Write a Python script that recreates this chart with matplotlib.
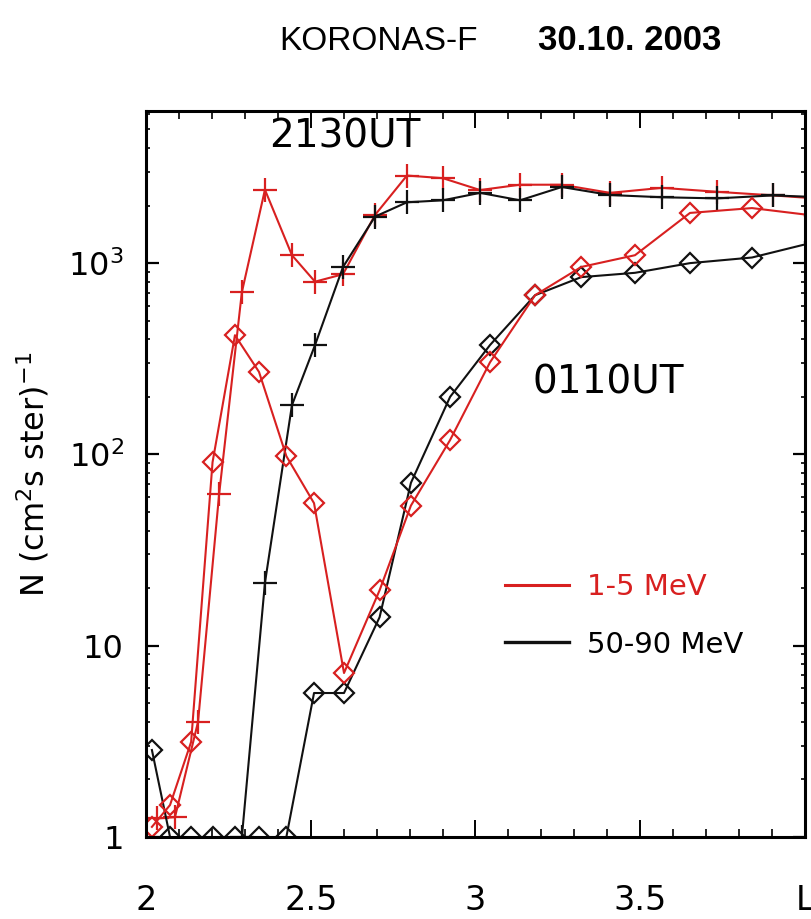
import matplotlib

matplotlib.use("Agg")
import matplotlib.pyplot as plt
from matplotlib.lines import Line2D
from matplotlib.ticker import FixedLocator, FixedFormatter, LogLocator, MultipleLocator, NullFormatter

# L-shell profiles of electron flux, KORONAS-F, 30.10.2003
# 2130UT pass (crosses), 0110UT pass (diamonds)
L_2130 = [2.033, 2.088, 2.158, 2.222, 2.291, 2.361, 2.443, 2.513, 2.598, 2.695,
          2.792, 2.901, 3.014, 3.135, 3.262, 3.408, 3.566, 3.733, 3.903, 4.08]
lo_2130 = [1.25, 1.27, 4.0, 62, 705, 2420, 1100, 800, 875, 1785,
           2870, 2780, 2410, 2570, 2570, 2330, 2475, 2360, 2260, 2150]
L_2130_hi = [2.291, 2.361, 2.443, 2.513, 2.598, 2.695, 2.792, 2.901, 3.014, 3.135,
             3.262, 3.408, 3.566, 3.733, 3.903, 4.08]
hi_2130 = [1.0, 21.3, 181, 373, 955, 1750, 2080, 2130, 2330, 2130,
           2500, 2270, 2210, 2180, 2260, 2200]

L_0110 = [2.018, 2.073, 2.137, 2.202, 2.270, 2.343, 2.426, 2.510, 2.601, 2.709,
          2.804, 2.923, 3.044, 3.181, 3.321, 3.484, 3.651, 3.839, 4.03]
lo_0110 = [1.13, 1.47, 3.14, 91, 420, 270, 98, 55.6, 7.2, 19.5,
           54, 119, 303, 680, 955, 1100, 1830, 1940, 1770]
hi_0110 = [2.85, 1.0, 1.0, 1.0, 1.0, 1.0, 1.0, 5.66, 5.66, 14.1,
           71, 200, 373, 680, 845, 890, 1000, 1070, 1290]

x_ticks = [2.0, 2.5, 3.0, 3.5, 4.0]
x_ticklabels = ["2", "2.5", "3", "3.5", "L"]
y_ticks = [1, 10, 100, 1000]
y_ticklabels = ["1", "10", "10$^2$", "10$^3$"]

RED = "#d82020"
BLACK = "#111111"
W, H = 811, 919

fig = plt.figure(figsize=(W / 100, H / 100), dpi=100)
ax = fig.add_axes([0.180, 0.0892, 0.8126, 0.790])

line_kw = dict(lw=1.5, mew=1.6, clip_on=True)
ax.plot(L_2130, lo_2130, "-", marker="+", ms=17, color=RED, **line_kw)
ax.plot(L_2130_hi, hi_2130, "-", marker="+", ms=17, color=BLACK, **line_kw)
ax.plot(L_0110, hi_0110, "-", marker="D", ms=10, fillstyle="none", color=BLACK, **line_kw)
ax.plot(L_0110, lo_0110, "-", marker="D", ms=10, fillstyle="none", color=RED, **line_kw)

ax.set_yscale("log")
ax.set_xlim(2.0, 4.0)
ax.set_ylim(1.0, 6240)

ax.xaxis.set_major_locator(FixedLocator(x_ticks))
ax.xaxis.set_major_formatter(FixedFormatter(x_ticklabels))
ax.xaxis.set_minor_locator(MultipleLocator(0.1))
ax.yaxis.set_major_locator(FixedLocator(y_ticks))
ax.yaxis.set_major_formatter(FixedFormatter(y_ticklabels))
ax.yaxis.set_minor_locator(LogLocator(base=10, subs=range(2, 10)))
ax.yaxis.set_minor_formatter(NullFormatter())

ax.tick_params(axis="x", which="major", direction="in", top=True, length=12, width=1.4,
               labelsize=24, pad=34)
ax.tick_params(axis="x", which="minor", direction="in", top=True, length=6, width=1.2)
ax.tick_params(axis="y", which="major", direction="in", right=True, length=9, width=1.6,
               labelsize=23, pad=16)
ax.tick_params(axis="y", which="minor", direction="in", right=True, length=3, width=1.2)
for sp in ax.spines.values():
    sp.set_linewidth(2.2)

ax.set_ylabel("N (cm$^2$s ster)$^{-1}$", fontsize=23, labelpad=12)

# pass labels and header, placed in figure pixels from the top-left
fig.text(345 / W, 1 - 136 / H, "2130UT", fontsize=28, ha="center", va="center")
fig.text(608 / W, 1 - 383 / H, "0110UT", fontsize=28, ha="center", va="center")
fig.text(378 / W, 1 - 41 / H, "KORONAS-F", fontsize=24, ha="center", va="center",
         family="Liberation Sans")
fig.text(630 / W, 1 - 41 / H, "30.10. 2003", fontsize=25, ha="center", va="center",
         family="Liberation Sans", fontweight="bold")

handles = [Line2D([], [], color=RED, lw=2.2), Line2D([], [], color=BLACK, lw=2.4)]
leg = ax.legend(handles, ["1-5 MeV", "50-90 MeV"], loc="upper left",
                bbox_to_anchor=(0.545, 0.363), frameon=False, fontsize=21,
                handlelength=2.2, handletextpad=0.6, labelspacing=1.0, borderpad=0,
                borderaxespad=0)
leg.get_texts()[0].set_color(RED)

fig.savefig("out.png", dpi=100)
